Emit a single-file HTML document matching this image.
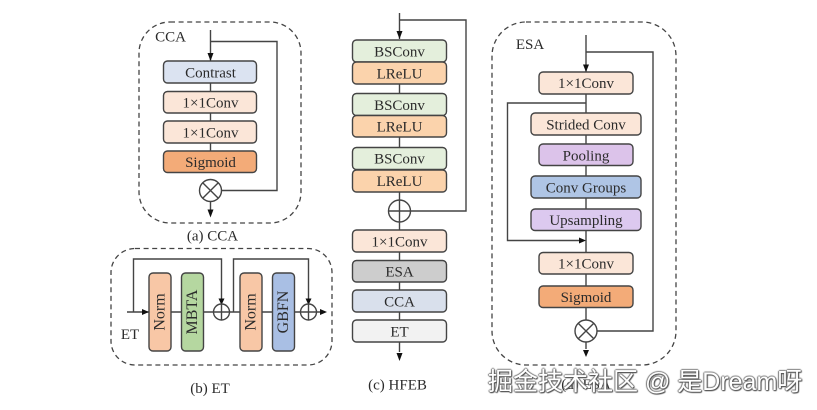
<!DOCTYPE html>
<html><head><meta charset="utf-8">
<style>
html,body{margin:0;padding:0;background:#fff;width:817px;height:410px;overflow:hidden}
svg{display:block;position:absolute;left:0;top:0}
text{font-family:"Liberation Serif",serif;font-size:15px;fill:#2b2b2b;text-anchor:middle;dominant-baseline:central}
.r{font-size:16px}
.b{stroke:#444;stroke-width:1.4}
.l{stroke:#444;stroke-width:1.4;fill:none}
.d{stroke:#444;stroke-width:1.3;fill:none;stroke-dasharray:5 3.6}
.a{fill:#111;stroke:none}
#wm{position:absolute;left:488px;top:367px;font-family:"Liberation Sans","Noto Sans CJK SC",sans-serif;font-size:25px;line-height:30px;color:#fff;white-space:nowrap;text-shadow:1px 1px 1px #555,-1px 0 1px #777,0 -1px 1px #888,1px 0 1px #777,0 1px 1px #666}
</style></head><body>
<svg width="817" height="410" viewBox="0 0 817 410" xmlns="http://www.w3.org/2000/svg">
<!-- CCA -->
<rect class="d" x="139" y="22" width="162" height="201" rx="31"/>
<path class="l" d="M210.5 30V152M210.5 41.5H277V190.500H221M210.5 201V210"/>
<path class="a" d="M207.500 53L213.500 53L210.5 61ZM207.500 209.500L213.500 209.500L210.5 217.500Z"/>
<rect class="b" x="163.5" y="61" width="93" height="22" rx="4" fill="#dbe3f1"/>
<rect class="b" x="163.5" y="91.5" width="93" height="21.5" rx="4" fill="#fbe6d8"/>
<rect class="b" x="163.5" y="121" width="93" height="22" rx="4" fill="#fbe6d8"/>
<rect class="b" x="163.5" y="151" width="93" height="21.5" rx="4" fill="#f3ab78"/>
<circle class="l" cx="210.5" cy="190.5" r="11" style="fill:#fff"/>
<path class="l" d="M202.7 182.7L218.3 198.3M218.3 182.7L202.7 198.3"/>
<g transform="translate(0 1)">
<text x="170.500" y="36.500">CCA</text>
<text x="210.500" y="72.500">Contrast</text>
<text x="210.500" y="102.500">1×1Conv</text>
<text x="210.500" y="132.500">1×1Conv</text>
<text x="210.500" y="162">Sigmoid</text>
<text x="212.500" y="235.500">(a) CCA</text>
</g>
<!-- ET -->
<rect class="d" x="111" y="248.500" width="221" height="116.500" rx="24"/>
<path class="l" d="M127 312H324M133.500 312V259H221.500V302M233.500 312V259H308.500V302"/>
<path class="a" d="M142 309V315L149 312ZM218.500 298.500H224.500L221.500 305ZM305.500 298.500H311.500L308.500 305ZM320 309V315L327 312Z"/>
<rect class="b" x="149" y="273" width="22" height="78" rx="4" fill="#f8c7a6"/>
<rect class="b" x="181.500" y="273" width="22" height="78" rx="4" fill="#b5d7a0"/>
<rect class="b" x="240" y="273" width="22" height="78" rx="4" fill="#f8c7a6"/>
<rect class="b" x="272.500" y="273" width="22" height="78" rx="4" fill="#a9bfe4"/>
<circle class="l" cx="221.500" cy="312" r="8" style="fill:#fff"/><path class="l" d="M213.500 312H229.500M221.500 304V320"/>
<circle class="l" cx="308.500" cy="312" r="8" style="fill:#fff"/><path class="l" d="M300.500 312H316.500M308.500 304V320"/>
<text class="r" transform="translate(160 312) rotate(-90)" x="0" y="0">Norm</text>
<text class="r" transform="translate(192.500 312) rotate(-90)" x="0" y="0">MBTA</text>
<text class="r" transform="translate(251 312) rotate(-90)" x="0" y="0">Norm</text>
<text class="r" transform="translate(283.500 312) rotate(-90)" x="0" y="0">GBFN</text>
<g transform="translate(0 1)">
<text x="130" y="334">ET</text>
<text x="210" y="388">(b) ET</text>
</g>
<!-- HFEB -->
<path class="l" d="M399.500 13V39M399.500 20H466V211H410.500M399.500 84V230M399.500 252V352"/>
<path class="a" d="M396.500 31H402.500L399.500 39ZM396.500 353H402.500L399.500 361Z"/>
<rect class="b" x="352.500" y="40" width="94" height="22" rx="4" fill="#e4efdc"/>
<rect class="b" x="352.500" y="62" width="94" height="22" rx="4" fill="#fbd3ac"/>
<rect class="b" x="352.500" y="93.500" width="94" height="22" rx="4" fill="#e4efdc"/>
<rect class="b" x="352.500" y="115.500" width="94" height="21.500" rx="4" fill="#fbd3ac"/>
<rect class="b" x="352.500" y="147.500" width="94" height="22" rx="4" fill="#e4efdc"/>
<rect class="b" x="352.500" y="170" width="94" height="22" rx="4" fill="#fbd3ac"/>
<circle class="l" cx="399.500" cy="211" r="11" style="fill:#fff"/><path class="l" d="M388.500 211H410.500M399.500 200V222"/>
<rect class="b" x="352.500" y="230" width="94" height="22" rx="4" fill="#fbe6d8"/>
<rect class="b" x="352.500" y="260.500" width="94" height="21.500" rx="4" fill="#cdcdcd"/>
<rect class="b" x="352.500" y="290" width="94" height="22" rx="4" fill="#d9e0ec"/>
<rect class="b" x="352.500" y="320" width="94" height="22" rx="4" fill="#f2f2f2"/>
<g transform="translate(0 1)">
<text x="399.500" y="51.500">BSConv</text>
<text x="399.500" y="73.500">LReLU</text>
<text x="399.500" y="105">BSConv</text>
<text x="399.500" y="126.500">LReLU</text>
<text x="399.500" y="158.500">BSConv</text>
<text x="399.500" y="181">LReLU</text>
<text x="399.500" y="241.500">1×1Conv</text>
<text x="399.500" y="271.500">ESA</text>
<text x="399.500" y="301.500">CCA</text>
<text x="399.500" y="331.500">ET</text>
<text x="397.500" y="384.500">(c) HFEB</text>
</g>
<!-- ESA -->
<rect class="d" x="492" y="22" width="184" height="343" rx="34"/>
<path class="l" d="M586 35V72M586 52H653V331H597M586 94V320M586 103H507.500V240.500H580M586 342V349"/>
<path class="a" d="M583 64.500H589L586 72ZM579 237.500V243.500L586 240.500ZM583 350H589L586 357Z"/>
<rect class="b" x="539" y="72" width="94" height="22" rx="4" fill="#fbe6d8"/>
<rect class="b" x="531" y="113" width="110" height="22" rx="4" fill="#fbe6d8"/>
<rect class="b" x="539" y="144" width="94" height="21.500" rx="4" fill="#dcc3ea"/>
<rect class="b" x="531" y="176" width="110" height="22" rx="4" fill="#afc5e5"/>
<rect class="b" x="531" y="209" width="110" height="21.500" rx="4" fill="#dcc9ef"/>
<rect class="b" x="539" y="252.500" width="94" height="21.500" rx="4" fill="#fbe6d8"/>
<rect class="b" x="539" y="286" width="94" height="21.500" rx="4" fill="#f3ab78"/>
<circle class="l" cx="586" cy="331" r="11" style="fill:#fff"/><path class="l" d="M578.200 323.200L593.800 338.800M593.800 323.200L578.200 338.800"/>
<g transform="translate(0 1)">
<text x="530" y="44">ESA</text>
<text x="586" y="83">1×1Conv</text>
<text x="586" y="124.500">Strided Conv</text>
<text x="586" y="155.500">Pooling</text>
<text x="586" y="187.500">Conv Groups</text>
<text x="586" y="220">Upsampling</text>
<text x="586" y="263.500">1×1Conv</text>
<text x="586" y="297">Sigmoid</text>
<text x="586" y="384">(d) ESA</text>
</g>
</svg>
<div id="wm">掘金技术社区 @ 是Dream呀</div>
</body></html>
